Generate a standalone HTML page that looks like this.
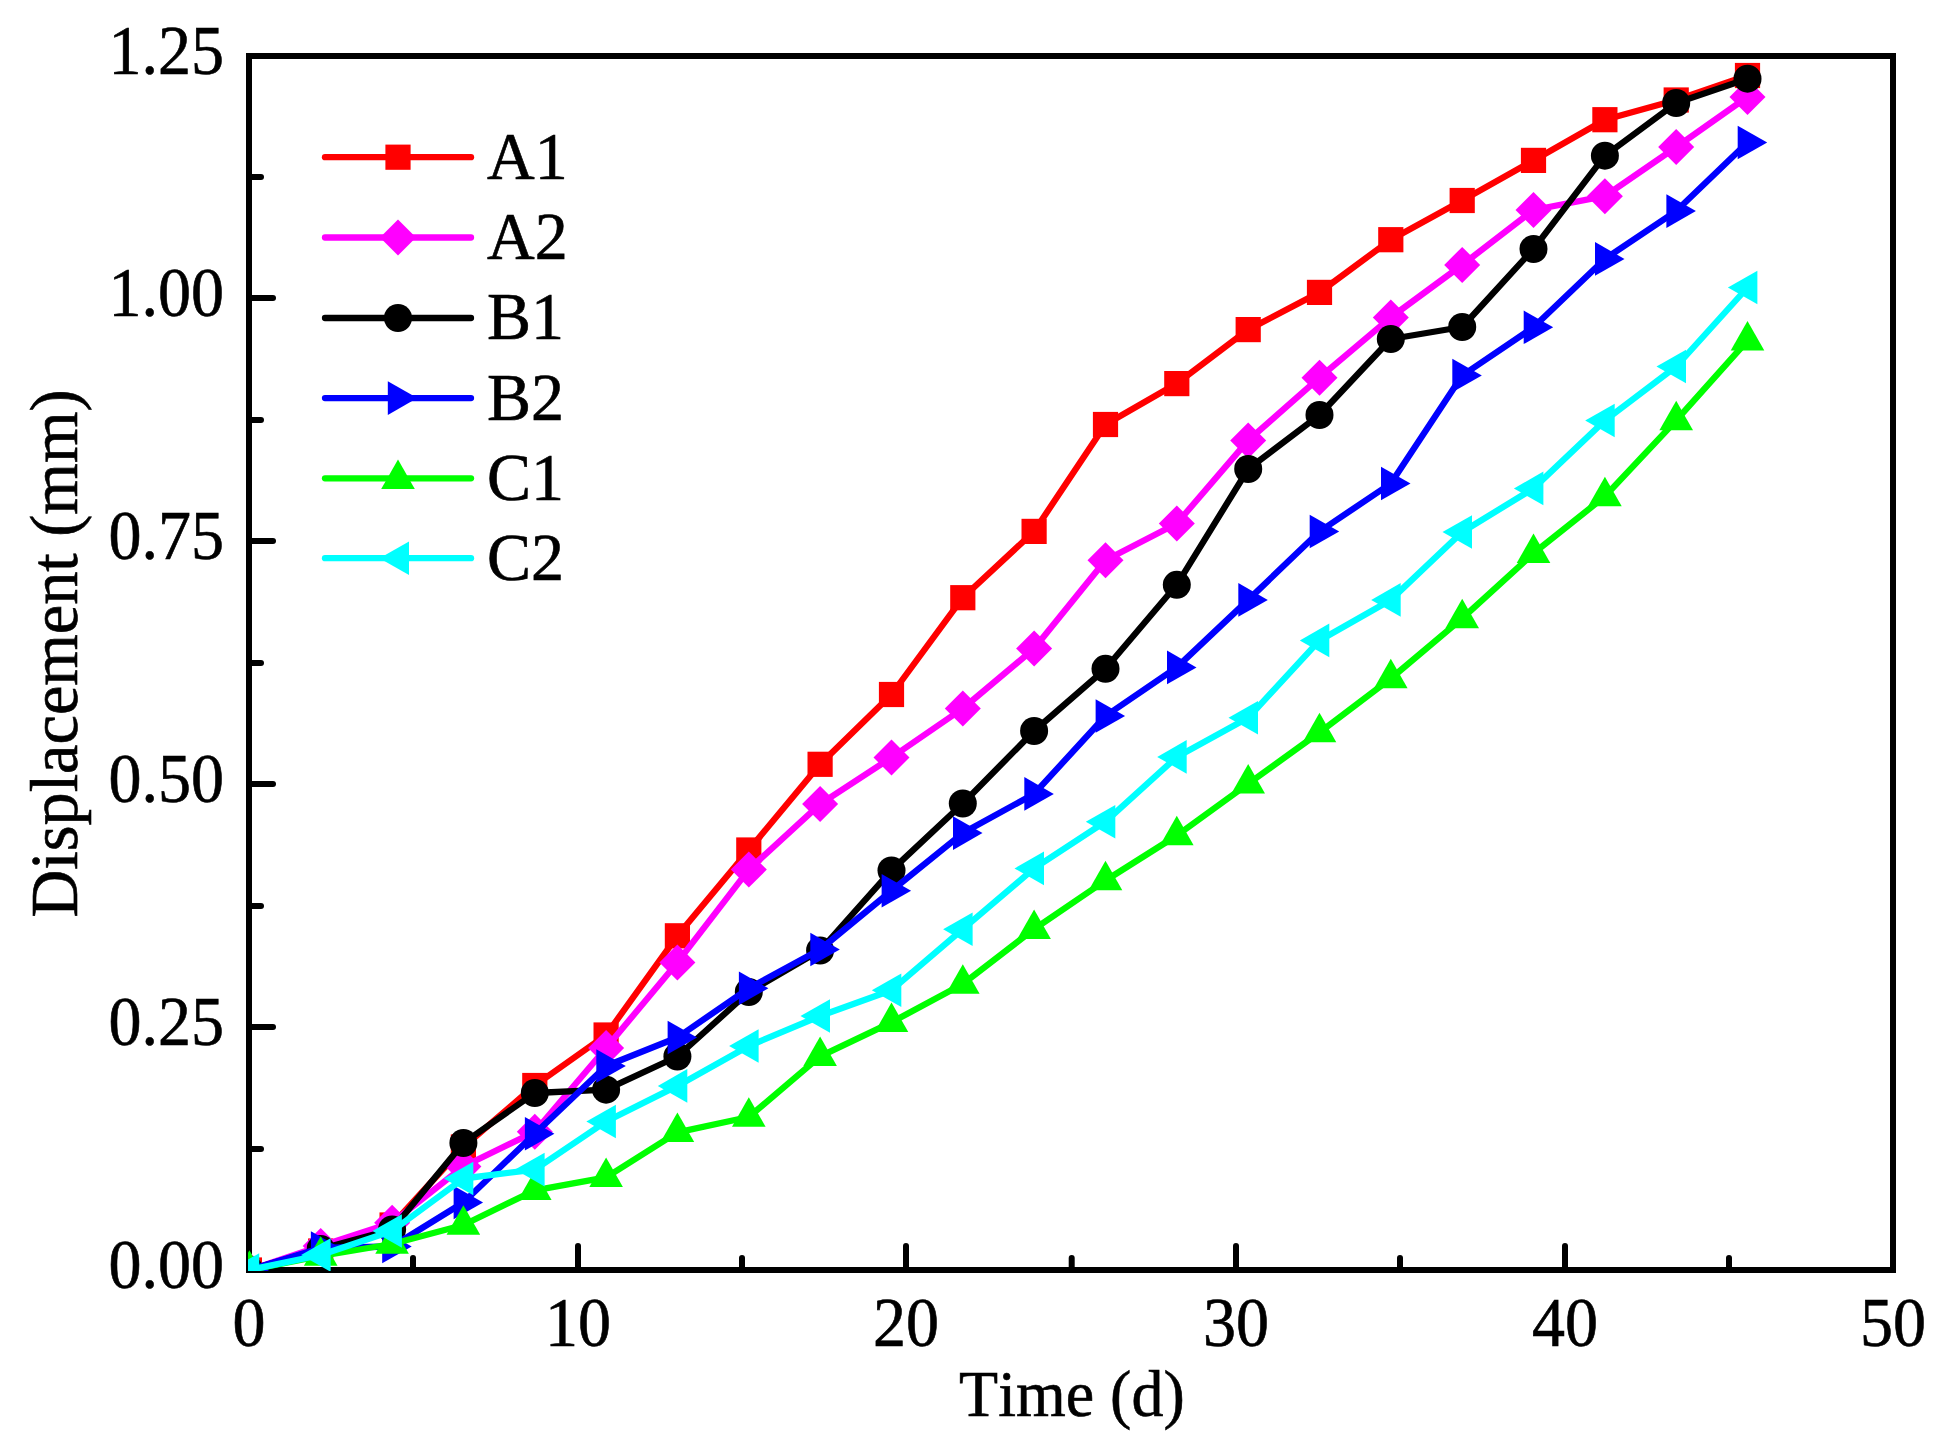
<!DOCTYPE html>
<html><head><meta charset="utf-8"><title>Displacement vs Time</title>
<style>
html,body{margin:0;padding:0;background:#fff;}
svg{display:block;}
text{font-family:"Liberation Serif",serif;fill:#000;font-kerning:none;stroke:#000;stroke-width:0.6px;}
</style></head><body>
<svg width="1958" height="1446" viewBox="0 0 1958 1446">
<rect width="1958" height="1446" fill="#fff"/>
<defs><clipPath id="cp"><rect x="248" y="55" width="1646" height="1216"/></clipPath></defs>

<g stroke="#000" stroke-width="6" fill="none" stroke-linecap="round">
<rect x="249" y="56" width="1644" height="1214" stroke-linejoin="miter" stroke-linecap="butt" shape-rendering="crispEdges"/>
<line x1="249" y1="1149" x2="261" y2="1149"/>
<line x1="249" y1="1027" x2="273" y2="1027"/>
<line x1="249" y1="906" x2="261" y2="906"/>
<line x1="249" y1="784" x2="273" y2="784"/>
<line x1="249" y1="663" x2="261" y2="663"/>
<line x1="249" y1="541" x2="273" y2="541"/>
<line x1="249" y1="420" x2="261" y2="420"/>
<line x1="249" y1="298" x2="273" y2="298"/>
<line x1="249" y1="177" x2="261" y2="177"/>
<line x1="413" y1="1270" x2="413" y2="1258"/>
<line x1="578" y1="1270" x2="578" y2="1246"/>
<line x1="742" y1="1270" x2="742" y2="1258"/>
<line x1="906" y1="1270" x2="906" y2="1246"/>
<line x1="1071.7" y1="1270" x2="1071.7" y2="1258"/>
<line x1="1236" y1="1270" x2="1236" y2="1246"/>
<line x1="1400" y1="1270" x2="1400" y2="1258"/>
<line x1="1565" y1="1270" x2="1565" y2="1246"/>
<line x1="1729" y1="1270" x2="1729" y2="1258"/>
</g>
<text transform="translate(224,1288.0) scale(1,1.07)" font-size="66" text-anchor="end">0.00</text>
<text transform="translate(224,1045.0) scale(1,1.07)" font-size="66" text-anchor="end">0.25</text>
<text transform="translate(224,802.0) scale(1,1.07)" font-size="66" text-anchor="end">0.50</text>
<text transform="translate(224,559.0) scale(1,1.07)" font-size="66" text-anchor="end">0.75</text>
<text transform="translate(224,316.1) scale(1,1.07)" font-size="66" text-anchor="end">1.00</text>
<text transform="translate(224,74.0) scale(1,1.07)" font-size="66" text-anchor="end">1.25</text>
<text transform="translate(249.0,1346.2) scale(1,1.07)" font-size="66" text-anchor="middle">0</text>
<text transform="translate(578.0,1346.2) scale(1,1.07)" font-size="66" text-anchor="middle">10</text>
<text transform="translate(906.0,1346.2) scale(1,1.07)" font-size="66" text-anchor="middle">20</text>
<text transform="translate(1236.0,1346.2) scale(1,1.07)" font-size="66" text-anchor="middle">30</text>
<text transform="translate(1565.0,1346.2) scale(1,1.07)" font-size="66" text-anchor="middle">40</text>
<text transform="translate(1893.0,1346.2) scale(1,1.07)" font-size="66" text-anchor="middle">50</text>
<text transform="translate(1071.9,1415.7) scale(0.97,1)" font-size="66" text-anchor="middle">Time (d)</text>
<text transform="translate(77.2,653.5) rotate(-90) scale(1.004,1.03)" font-size="66" text-anchor="middle">Displacement (mm)</text>
<g clip-path="url(#cp)">
<polyline points="249.4,1270.0 320.7,1251.0 392.1,1225.0 463.4,1147.0 534.8,1085.5 606.1,1035.0 677.4,935.8 748.8,850.0 820.1,764.3 891.5,694.5 962.8,597.7 1034.1,531.4 1105.5,424.5 1176.8,383.6 1248.2,329.6 1319.5,292.4 1390.8,239.7 1462.2,200.5 1533.5,160.4 1604.9,119.7 1676.2,100.0 1747.5,75.5" fill="none" stroke="#ff0000" stroke-width="6.3" stroke-linejoin="round"/>
<rect x="236.8" y="1257.4" width="25.2" height="25.2" fill="#ff0000"/>
<rect x="308.1" y="1238.4" width="25.2" height="25.2" fill="#ff0000"/>
<rect x="379.5" y="1212.4" width="25.2" height="25.2" fill="#ff0000"/>
<rect x="450.8" y="1134.4" width="25.2" height="25.2" fill="#ff0000"/>
<rect x="522.2" y="1072.9" width="25.2" height="25.2" fill="#ff0000"/>
<rect x="593.5" y="1022.4" width="25.2" height="25.2" fill="#ff0000"/>
<rect x="664.8" y="923.2" width="25.2" height="25.2" fill="#ff0000"/>
<rect x="736.2" y="837.4" width="25.2" height="25.2" fill="#ff0000"/>
<rect x="807.5" y="751.7" width="25.2" height="25.2" fill="#ff0000"/>
<rect x="878.9" y="681.9" width="25.2" height="25.2" fill="#ff0000"/>
<rect x="950.2" y="585.1" width="25.2" height="25.2" fill="#ff0000"/>
<rect x="1021.5" y="518.8" width="25.2" height="25.2" fill="#ff0000"/>
<rect x="1092.9" y="411.9" width="25.2" height="25.2" fill="#ff0000"/>
<rect x="1164.2" y="371.0" width="25.2" height="25.2" fill="#ff0000"/>
<rect x="1235.6" y="317.0" width="25.2" height="25.2" fill="#ff0000"/>
<rect x="1306.9" y="279.8" width="25.2" height="25.2" fill="#ff0000"/>
<rect x="1378.2" y="227.1" width="25.2" height="25.2" fill="#ff0000"/>
<rect x="1449.6" y="187.9" width="25.2" height="25.2" fill="#ff0000"/>
<rect x="1520.9" y="147.8" width="25.2" height="25.2" fill="#ff0000"/>
<rect x="1592.3" y="107.1" width="25.2" height="25.2" fill="#ff0000"/>
<rect x="1663.6" y="87.4" width="25.2" height="25.2" fill="#ff0000"/>
<rect x="1734.9" y="62.9" width="25.2" height="25.2" fill="#ff0000"/>
<polyline points="249.4,1270.0 320.7,1246.0 392.1,1222.8 463.4,1166.5 534.8,1131.8 606.1,1048.0 677.4,962.4 748.8,869.6 820.1,804.1 891.5,757.5 962.8,708.5 1034.1,648.6 1105.5,560.3 1176.8,523.5 1248.2,440.4 1319.5,377.7 1390.8,317.4 1462.2,264.9 1533.5,210.0 1604.9,196.2 1676.2,147.1 1747.5,96.9" fill="none" stroke="#ff00ff" stroke-width="6.3" stroke-linejoin="round"/>
<polygon points="249.4,1252.0 267.4,1270.0 249.4,1288.0 231.4,1270.0" fill="#ff00ff"/>
<polygon points="320.7,1228.0 338.7,1246.0 320.7,1264.0 302.7,1246.0" fill="#ff00ff"/>
<polygon points="392.1,1204.8 410.1,1222.8 392.1,1240.8 374.1,1222.8" fill="#ff00ff"/>
<polygon points="463.4,1148.5 481.4,1166.5 463.4,1184.5 445.4,1166.5" fill="#ff00ff"/>
<polygon points="534.8,1113.8 552.8,1131.8 534.8,1149.8 516.8,1131.8" fill="#ff00ff"/>
<polygon points="606.1,1030.0 624.1,1048.0 606.1,1066.0 588.1,1048.0" fill="#ff00ff"/>
<polygon points="677.4,944.4 695.4,962.4 677.4,980.4 659.4,962.4" fill="#ff00ff"/>
<polygon points="748.8,851.6 766.8,869.6 748.8,887.6 730.8,869.6" fill="#ff00ff"/>
<polygon points="820.1,786.1 838.1,804.1 820.1,822.1 802.1,804.1" fill="#ff00ff"/>
<polygon points="891.5,739.5 909.5,757.5 891.5,775.5 873.5,757.5" fill="#ff00ff"/>
<polygon points="962.8,690.5 980.8,708.5 962.8,726.5 944.8,708.5" fill="#ff00ff"/>
<polygon points="1034.1,630.6 1052.1,648.6 1034.1,666.6 1016.1,648.6" fill="#ff00ff"/>
<polygon points="1105.5,542.3 1123.5,560.3 1105.5,578.3 1087.5,560.3" fill="#ff00ff"/>
<polygon points="1176.8,505.5 1194.8,523.5 1176.8,541.5 1158.8,523.5" fill="#ff00ff"/>
<polygon points="1248.2,422.4 1266.2,440.4 1248.2,458.4 1230.2,440.4" fill="#ff00ff"/>
<polygon points="1319.5,359.7 1337.5,377.7 1319.5,395.7 1301.5,377.7" fill="#ff00ff"/>
<polygon points="1390.8,299.4 1408.8,317.4 1390.8,335.4 1372.8,317.4" fill="#ff00ff"/>
<polygon points="1462.2,246.9 1480.2,264.9 1462.2,282.9 1444.2,264.9" fill="#ff00ff"/>
<polygon points="1533.5,192.0 1551.5,210.0 1533.5,228.0 1515.5,210.0" fill="#ff00ff"/>
<polygon points="1604.9,178.2 1622.9,196.2 1604.9,214.2 1586.9,196.2" fill="#ff00ff"/>
<polygon points="1676.2,129.1 1694.2,147.1 1676.2,165.1 1658.2,147.1" fill="#ff00ff"/>
<polygon points="1747.5,78.9 1765.5,96.9 1747.5,114.9 1729.5,96.9" fill="#ff00ff"/>
<polyline points="249.4,1270.0 320.7,1249.0 392.1,1229.5 463.4,1143.0 534.8,1093.0 606.1,1089.7 677.4,1056.5 748.8,992.0 820.1,950.5 891.5,870.4 962.8,803.5 1034.1,731.0 1105.5,668.8 1176.8,584.8 1248.2,469.0 1319.5,415.0 1390.8,339.0 1462.2,327.0 1533.5,249.0 1604.9,155.7 1676.2,103.0 1747.5,78.7" fill="none" stroke="#000000" stroke-width="6.3" stroke-linejoin="round"/>
<circle cx="249.4" cy="1270.0" r="14" fill="#000000"/>
<circle cx="320.7" cy="1249.0" r="14" fill="#000000"/>
<circle cx="392.1" cy="1229.5" r="14" fill="#000000"/>
<circle cx="463.4" cy="1143.0" r="14" fill="#000000"/>
<circle cx="534.8" cy="1093.0" r="14" fill="#000000"/>
<circle cx="606.1" cy="1089.7" r="14" fill="#000000"/>
<circle cx="677.4" cy="1056.5" r="14" fill="#000000"/>
<circle cx="748.8" cy="992.0" r="14" fill="#000000"/>
<circle cx="820.1" cy="950.5" r="14" fill="#000000"/>
<circle cx="891.5" cy="870.4" r="14" fill="#000000"/>
<circle cx="962.8" cy="803.5" r="14" fill="#000000"/>
<circle cx="1034.1" cy="731.0" r="14" fill="#000000"/>
<circle cx="1105.5" cy="668.8" r="14" fill="#000000"/>
<circle cx="1176.8" cy="584.8" r="14" fill="#000000"/>
<circle cx="1248.2" cy="469.0" r="14" fill="#000000"/>
<circle cx="1319.5" cy="415.0" r="14" fill="#000000"/>
<circle cx="1390.8" cy="339.0" r="14" fill="#000000"/>
<circle cx="1462.2" cy="327.0" r="14" fill="#000000"/>
<circle cx="1533.5" cy="249.0" r="14" fill="#000000"/>
<circle cx="1604.9" cy="155.7" r="14" fill="#000000"/>
<circle cx="1676.2" cy="103.0" r="14" fill="#000000"/>
<circle cx="1747.5" cy="78.7" r="14" fill="#000000"/>
<polyline points="249.4,1270.0 320.7,1248.0 392.1,1246.5 463.4,1202.5 534.8,1133.8 606.1,1066.0 677.4,1037.5 748.8,988.3 820.1,949.5 891.5,890.7 962.8,833.1 1034.1,793.9 1105.5,716.0 1176.8,667.4 1248.2,599.9 1319.5,531.5 1390.8,483.5 1462.2,375.5 1533.5,327.3 1604.9,258.9 1676.2,211.1 1747.5,142.5" fill="none" stroke="#0000ff" stroke-width="6.3" stroke-linejoin="round"/>
<polygon points="239.6,1253.2 269.1,1270.0 239.6,1286.8" fill="#0000ff"/>
<polygon points="310.9,1231.2 340.4,1248.0 310.9,1264.8" fill="#0000ff"/>
<polygon points="382.2,1229.7 411.7,1246.5 382.2,1263.3" fill="#0000ff"/>
<polygon points="453.6,1185.7 483.1,1202.5 453.6,1219.3" fill="#0000ff"/>
<polygon points="524.9,1117.0 554.4,1133.8 524.9,1150.6" fill="#0000ff"/>
<polygon points="596.3,1049.2 625.8,1066.0 596.3,1082.8" fill="#0000ff"/>
<polygon points="667.6,1020.7 697.1,1037.5 667.6,1054.3" fill="#0000ff"/>
<polygon points="738.9,971.5 768.4,988.3 738.9,1005.1" fill="#0000ff"/>
<polygon points="810.3,932.7 839.8,949.5 810.3,966.3" fill="#0000ff"/>
<polygon points="881.6,873.9 911.1,890.7 881.6,907.5" fill="#0000ff"/>
<polygon points="953.0,816.3 982.5,833.1 953.0,849.9" fill="#0000ff"/>
<polygon points="1024.3,777.1 1053.8,793.9 1024.3,810.7" fill="#0000ff"/>
<polygon points="1095.6,699.2 1125.1,716.0 1095.6,732.8" fill="#0000ff"/>
<polygon points="1167.0,650.6 1196.5,667.4 1167.0,684.2" fill="#0000ff"/>
<polygon points="1238.3,583.1 1267.8,599.9 1238.3,616.7" fill="#0000ff"/>
<polygon points="1309.7,514.7 1339.2,531.5 1309.7,548.3" fill="#0000ff"/>
<polygon points="1381.0,466.7 1410.5,483.5 1381.0,500.3" fill="#0000ff"/>
<polygon points="1452.3,358.7 1481.8,375.5 1452.3,392.3" fill="#0000ff"/>
<polygon points="1523.7,310.5 1553.2,327.3 1523.7,344.1" fill="#0000ff"/>
<polygon points="1595.0,242.1 1624.5,258.9 1595.0,275.7" fill="#0000ff"/>
<polygon points="1666.4,194.3 1695.9,211.1 1666.4,227.9" fill="#0000ff"/>
<polygon points="1737.7,125.7 1767.2,142.5 1737.7,159.3" fill="#0000ff"/>
<polyline points="249.4,1270.0 320.7,1256.0 392.1,1244.0 463.4,1225.0 534.8,1190.3 606.1,1177.3 677.4,1132.3 748.8,1117.0 820.1,1056.3 891.5,1022.3 962.8,984.0 1034.1,929.1 1105.5,880.5 1176.8,835.5 1248.2,783.8 1319.5,732.4 1390.8,678.5 1462.2,618.4 1533.5,553.3 1604.9,496.4 1676.2,420.4 1747.5,340.6" fill="none" stroke="#00ff00" stroke-width="6.3" stroke-linejoin="round"/>
<polygon points="232.6,1279.8 249.4,1250.3 266.2,1279.8" fill="#00ff00"/>
<polygon points="303.9,1265.8 320.7,1236.3 337.5,1265.8" fill="#00ff00"/>
<polygon points="375.3,1253.8 392.1,1224.3 408.9,1253.8" fill="#00ff00"/>
<polygon points="446.6,1234.8 463.4,1205.3 480.2,1234.8" fill="#00ff00"/>
<polygon points="518.0,1200.1 534.8,1170.6 551.6,1200.1" fill="#00ff00"/>
<polygon points="589.3,1187.1 606.1,1157.6 622.9,1187.1" fill="#00ff00"/>
<polygon points="660.6,1142.1 677.4,1112.6 694.2,1142.1" fill="#00ff00"/>
<polygon points="732.0,1126.8 748.8,1097.3 765.6,1126.8" fill="#00ff00"/>
<polygon points="803.3,1066.1 820.1,1036.6 836.9,1066.1" fill="#00ff00"/>
<polygon points="874.7,1032.1 891.5,1002.6 908.3,1032.1" fill="#00ff00"/>
<polygon points="946.0,993.8 962.8,964.3 979.6,993.8" fill="#00ff00"/>
<polygon points="1017.3,938.9 1034.1,909.4 1050.9,938.9" fill="#00ff00"/>
<polygon points="1088.7,890.3 1105.5,860.8 1122.3,890.3" fill="#00ff00"/>
<polygon points="1160.0,845.3 1176.8,815.8 1193.6,845.3" fill="#00ff00"/>
<polygon points="1231.4,793.6 1248.2,764.1 1265.0,793.6" fill="#00ff00"/>
<polygon points="1302.7,742.2 1319.5,712.7 1336.3,742.2" fill="#00ff00"/>
<polygon points="1374.0,688.3 1390.8,658.8 1407.6,688.3" fill="#00ff00"/>
<polygon points="1445.4,628.2 1462.2,598.7 1479.0,628.2" fill="#00ff00"/>
<polygon points="1516.7,563.1 1533.5,533.6 1550.3,563.1" fill="#00ff00"/>
<polygon points="1588.1,506.2 1604.9,476.7 1621.7,506.2" fill="#00ff00"/>
<polygon points="1659.4,430.2 1676.2,400.7 1693.0,430.2" fill="#00ff00"/>
<polygon points="1730.7,350.4 1747.5,320.9 1764.3,350.4" fill="#00ff00"/>
<polyline points="249.4,1270.0 320.7,1255.0 392.1,1231.0 463.4,1178.5 534.8,1169.6 606.1,1121.5 677.4,1085.9 748.8,1046.0 820.1,1016.0 891.5,990.2 962.8,929.2 1034.1,868.4 1105.5,821.7 1176.8,756.9 1248.2,717.8 1319.5,640.4 1390.8,599.9 1462.2,532.0 1533.5,488.4 1604.9,420.5 1676.2,366.5 1747.5,287.5" fill="none" stroke="#00ffff" stroke-width="6.3" stroke-linejoin="round"/>
<polygon points="259.2,1253.2 229.7,1270.0 259.2,1286.8" fill="#00ffff"/>
<polygon points="330.6,1238.2 301.1,1255.0 330.6,1271.8" fill="#00ffff"/>
<polygon points="401.9,1214.2 372.4,1231.0 401.9,1247.8" fill="#00ffff"/>
<polygon points="473.3,1161.7 443.8,1178.5 473.3,1195.3" fill="#00ffff"/>
<polygon points="544.6,1152.8 515.1,1169.6 544.6,1186.4" fill="#00ffff"/>
<polygon points="615.9,1104.7 586.4,1121.5 615.9,1138.3" fill="#00ffff"/>
<polygon points="687.3,1069.1 657.8,1085.9 687.3,1102.7" fill="#00ffff"/>
<polygon points="758.6,1029.2 729.1,1046.0 758.6,1062.8" fill="#00ffff"/>
<polygon points="830.0,999.2 800.5,1016.0 830.0,1032.8" fill="#00ffff"/>
<polygon points="901.3,973.4 871.8,990.2 901.3,1007.0" fill="#00ffff"/>
<polygon points="972.6,912.4 943.1,929.2 972.6,946.0" fill="#00ffff"/>
<polygon points="1044.0,851.6 1014.5,868.4 1044.0,885.2" fill="#00ffff"/>
<polygon points="1115.3,804.9 1085.8,821.7 1115.3,838.5" fill="#00ffff"/>
<polygon points="1186.7,740.1 1157.2,756.9 1186.7,773.7" fill="#00ffff"/>
<polygon points="1258.0,701.0 1228.5,717.8 1258.0,734.6" fill="#00ffff"/>
<polygon points="1329.3,623.6 1299.8,640.4 1329.3,657.2" fill="#00ffff"/>
<polygon points="1400.7,583.1 1371.2,599.9 1400.7,616.7" fill="#00ffff"/>
<polygon points="1472.0,515.2 1442.5,532.0 1472.0,548.8" fill="#00ffff"/>
<polygon points="1543.4,471.6 1513.9,488.4 1543.4,505.2" fill="#00ffff"/>
<polygon points="1614.7,403.7 1585.2,420.5 1614.7,437.3" fill="#00ffff"/>
<polygon points="1686.0,349.7 1656.5,366.5 1686.0,383.3" fill="#00ffff"/>
<polygon points="1757.4,270.7 1727.9,287.5 1757.4,304.3" fill="#00ffff"/>
</g>
<line x1="325" y1="157.2" x2="471" y2="157.2" stroke="#ff0000" stroke-width="6.3" stroke-linecap="round"/>
<rect x="385.4" y="144.6" width="25.2" height="25.2" fill="#ff0000"/>
<text transform="translate(487,178.6) scale(1,1.03)" font-size="66">A1</text>
<line x1="325" y1="237.5" x2="471" y2="237.5" stroke="#ff00ff" stroke-width="6.3" stroke-linecap="round"/>
<polygon points="398.0,219.5 416.0,237.5 398.0,255.5 380.0,237.5" fill="#ff00ff"/>
<text transform="translate(487,258.9) scale(1,1.03)" font-size="66">A2</text>
<line x1="325" y1="318" x2="471" y2="318" stroke="#000000" stroke-width="6.3" stroke-linecap="round"/>
<circle cx="398.0" cy="318.0" r="14" fill="#000000"/>
<text transform="translate(487,339.4) scale(1,1.03)" font-size="66">B1</text>
<line x1="325" y1="398.1" x2="471" y2="398.1" stroke="#0000ff" stroke-width="6.3" stroke-linecap="round"/>
<polygon points="387.8,381.3 417.3,398.1 387.8,414.9" fill="#0000ff"/>
<text transform="translate(487,419.5) scale(1,1.03)" font-size="66">B2</text>
<line x1="325" y1="478.3" x2="471" y2="478.3" stroke="#00ff00" stroke-width="6.3" stroke-linecap="round"/>
<polygon points="381.2,489.1 398.0,459.6 414.8,489.1" fill="#00ff00"/>
<text transform="translate(487,499.7) scale(1,1.03)" font-size="66">C1</text>
<line x1="325" y1="558.2" x2="471" y2="558.2" stroke="#00ffff" stroke-width="6.3" stroke-linecap="round"/>
<polygon points="409.0,541.4 379.5,558.2 409.0,575.0" fill="#00ffff"/>
<text transform="translate(487,579.6) scale(1,1.03)" font-size="66">C2</text>
</svg></body></html>
